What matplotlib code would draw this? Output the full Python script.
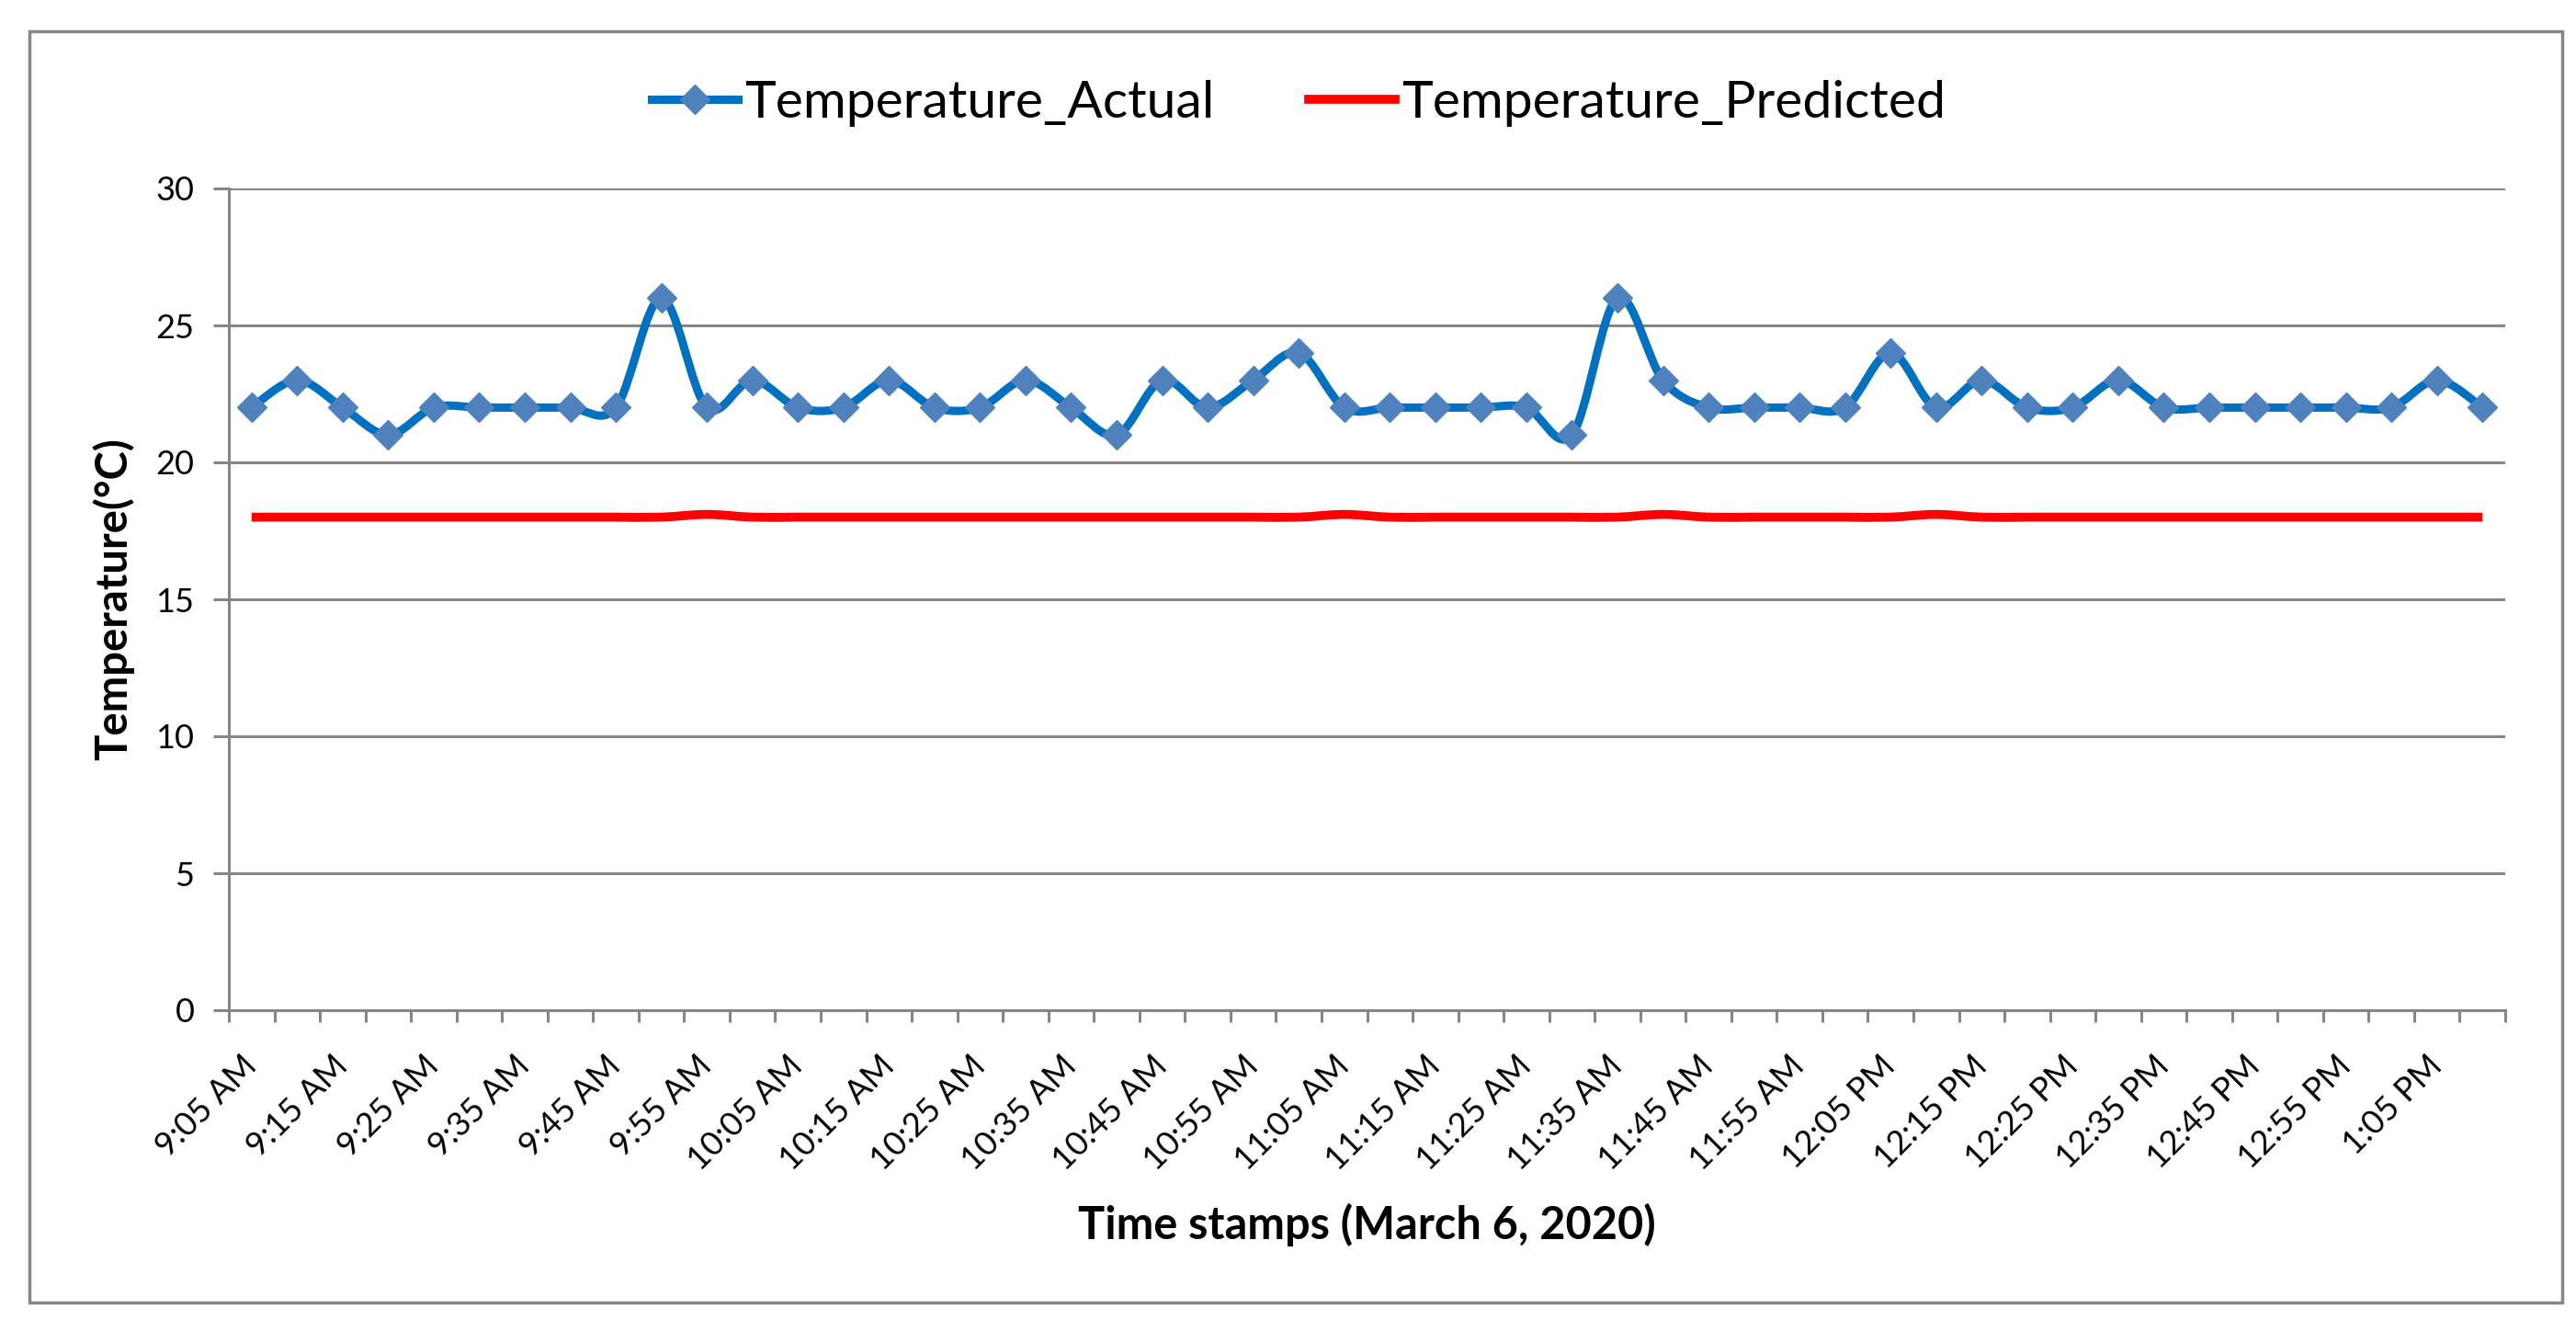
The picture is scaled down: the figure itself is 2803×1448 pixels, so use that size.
import matplotlib
matplotlib.use("Agg")
import matplotlib.pyplot as plt
from matplotlib.path import Path
from matplotlib.patches import PathPatch, Rectangle
from matplotlib.lines import Line2D
import numpy as np

plt.rcParams['font.family'] = ['Lato', 'DejaVu Sans']

# ---------------- data ----------------
time_labels = ["9:05 AM", "9:15 AM", "9:25 AM", "9:35 AM", "9:45 AM", "9:55 AM",
               "10:05 AM", "10:15 AM", "10:25 AM", "10:35 AM", "10:45 AM", "10:55 AM",
               "11:05 AM", "11:15 AM", "11:25 AM", "11:35 AM", "11:45 AM", "11:55 AM",
               "12:05 PM", "12:15 PM", "12:25 PM", "12:35 PM", "12:45 PM", "12:55 PM",
               "1:05 PM"]

temperature_actual = [22, 23, 22, 21, 22, 22, 22, 22, 22, 26,
                      22, 23, 22, 22, 23, 22, 22, 23, 22, 21,
                      23, 22, 23, 24, 22, 22, 22, 22, 22, 21,
                      26, 23, 22, 22, 22, 22, 24, 22, 23, 22,
                      22, 23, 22, 22, 22, 22, 22, 22, 23, 22]

temperature_predicted = [18, 18, 18, 18, 18, 18, 18, 18, 18, 18,
                         18.1, 18, 18, 18, 18, 18, 18, 18, 18, 18,
                         18, 18, 18, 18, 18.1, 18, 18, 18, 18, 18,
                         18, 18.1, 18, 18, 18, 18, 18, 18.1, 18, 18,
                         18, 18, 18, 18, 18, 18, 18, 18, 18, 18]

y_ticks = [0, 5, 10, 15, 20, 25, 30]

# ---------------- helpers ----------------
def smooth_path(xs, ys):
    """Excel-like smoothed line: cubic Bezier through every data point."""
    n = len(xs)
    verts = [(xs[0], ys[0])]
    codes = [Path.MOVETO]
    for i in range(n - 1):
        a = i - 1 if i > 0 else i
        d = i + 2 if i + 2 < n else i + 1
        c1 = (xs[i] + (xs[i + 1] - xs[a]) / 6.0, ys[i] + (ys[i + 1] - ys[a]) / 6.0)
        c2 = (xs[i + 1] - (xs[d] - xs[i]) / 6.0, ys[i + 1] - (ys[d] - ys[i]) / 6.0)
        verts += [c1, c2, (xs[i + 1], ys[i + 1])]
        codes += [Path.CURVE4] * 3
    return Path(verts, codes)

# ---------------- figure ----------------
W, H = 2803, 1448
fig = plt.figure(figsize=(W / 100, H / 100), dpi=100)
fig.patch.set_facecolor('white')

ax_left, ax_right, ax_top, ax_bottom = 249, 2726, 205, 1099
ax = fig.add_axes([ax_left / W, 1 - ax_bottom / H,
                   (ax_right - ax_left) / W, (ax_bottom - ax_top) / H])

grey = '#868686'
blue_line = '#0070C0'
blue_marker = '#4F81BD'
red = '#FF0000'

x = np.arange(len(temperature_actual))

# predicted (red)
ax.add_patch(PathPatch(smooth_path(x, temperature_predicted), facecolor='none',
                       edgecolor=red, lw=7, capstyle='butt', joinstyle='round', zorder=3))
# actual (blue smoothed line + diamond markers)
ax.add_patch(PathPatch(smooth_path(x, temperature_actual), facecolor='none',
                       edgecolor=blue_line, lw=6.5, capstyle='round', joinstyle='round', zorder=4))
ax.plot(x, temperature_actual, linestyle='none', marker='D', ms=16.5,
        mfc=blue_marker, mec=blue_marker, mew=1, zorder=5)

# axes limits & grid
ax.set_xlim(-0.5, len(x) - 0.5)
ax.set_ylim(0, 30)
ax.set_yticks(y_ticks)
ax.set_yticklabels([str(v) for v in y_ticks])
ax.yaxis.grid(True, color=grey, lw=2.2)
ax.set_axisbelow(True)

for s in ['top', 'right']:
    ax.spines[s].set_visible(False)
for s in ['left', 'bottom']:
    ax.spines[s].set_color(grey)
    ax.spines[s].set_linewidth(2.2)

ax.tick_params(axis='y', which='major', direction='out', length=12, width=2.2,
               color=grey, pad=15, labelsize=26, labelcolor='black')

# x: major ticks at category boundaries (no labels), minor ticks carry labels
ax.set_xticks(np.arange(-0.5, len(x), 1.0))
ax.set_xticklabels([])
ax.tick_params(axis='x', which='major', direction='out', length=9.5, width=2.2, color=grey)
label_pos = x[::2]
ax.set_xticks(label_pos, minor=True)
ax.set_xticklabels(time_labels, minor=True, rotation=45, ha='right', va='center',
                   rotation_mode='anchor')
ax.tick_params(axis='x', which='minor', length=0, pad=40, labelsize=26, labelcolor='black')

# axis titles
ax.set_xlabel('Time stamps (March 6, 2020)', fontsize=35, fontweight='bold')
ax.xaxis.label.set_va('center')
ax.xaxis.set_label_coords(0.5, -0.2606)
ax.set_ylabel('Temperature(°C)', fontsize=34, fontweight='bold')
ax.yaxis.label.set_va('center')
ax.yaxis.set_label_coords(-0.0505, 0.5)

# legend
handles = [
    Line2D([], [], color=blue_line, lw=6.5, marker='D', ms=16.5, mfc=blue_marker, mec=blue_marker),
    Line2D([], [], color=red, lw=7),
]
fig.legend(handles, ['Temperature_Actual', 'Temperature_Predicted'],
           loc='center', bbox_to_anchor=(1413 / W, 1 - 112 / H), ncol=2, frameon=False,
           fontsize=41, handlelength=1.65, handletextpad=0.12, columnspacing=1.8,
           numpoints=1, borderpad=0, borderaxespad=0)

# outer chart border
fig.patches.append(Rectangle((32 / W, 1 - 1417 / H), (2788 - 32) / W, (1417 - 34) / H,
                             transform=fig.transFigure, fill=False, edgecolor=grey, lw=2.5))

fig.savefig('out.png', dpi=100, facecolor='white')
